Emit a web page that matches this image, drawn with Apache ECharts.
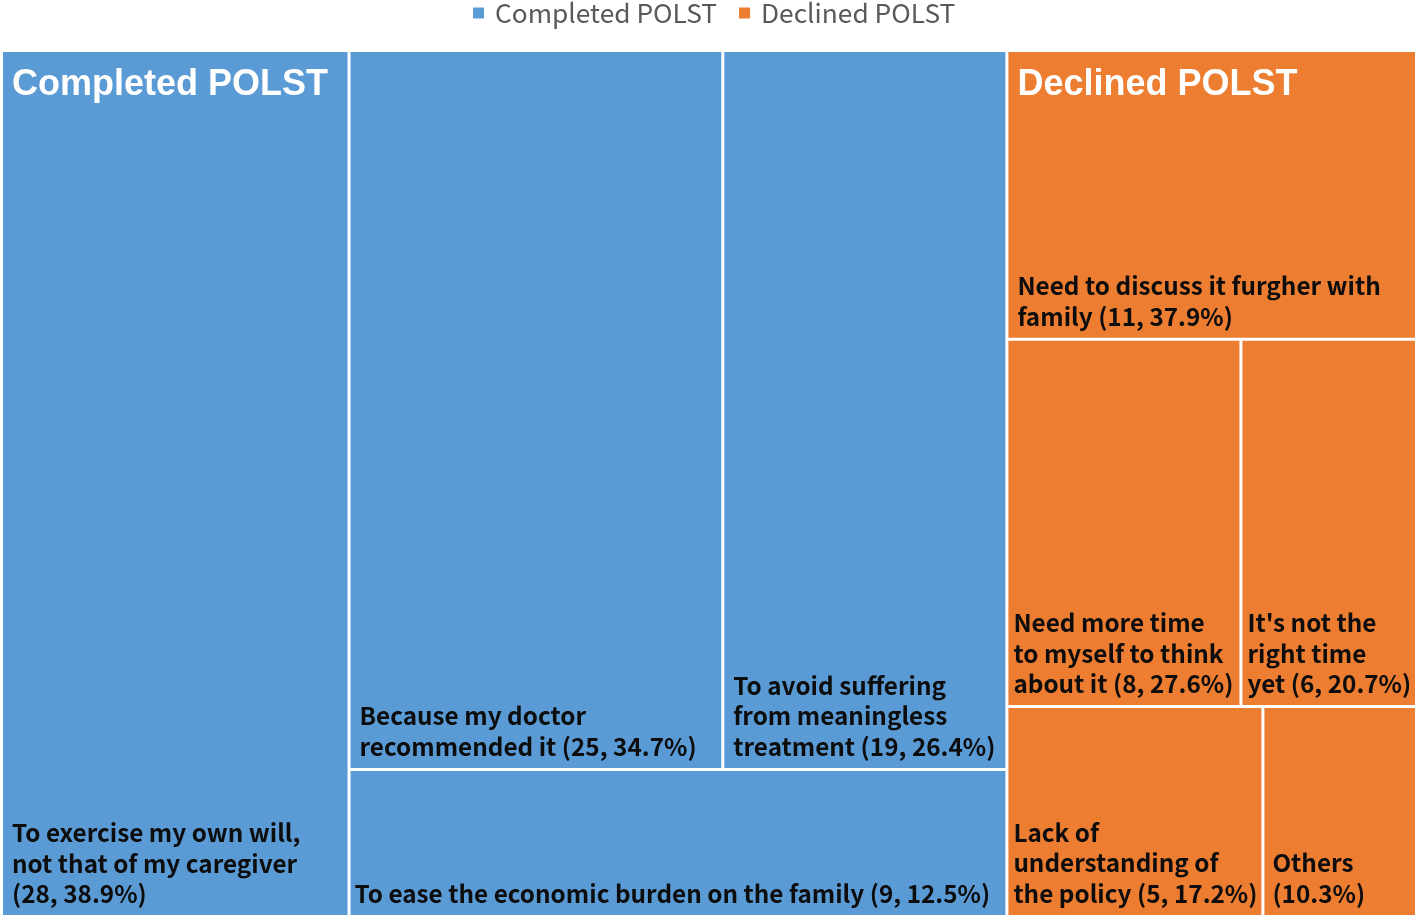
<!DOCTYPE html>
<html>
<head>
<meta charset="utf-8">
<script src="https://cdn.jsdelivr.net/npm/echarts@6/dist/echarts.min.js"></script>
<style>
html,body{margin:0;padding:0;background:#ffffff;}
#main{width:1418px;height:919px;}
</style>
</head>
<body>
<div id="main"></div>
<script>
// ---------------- DATA ----------------
const groupNames = ['Completed POLST', 'Declined POLST'];

const completedReasons = [
  'To exercise my own will,\nnot that of my caregiver\n',
  'Because my doctor\nrecommended it',
  'To avoid suffering\nfrom meaningless\ntreatment',
  'To ease the economic burden on the family'
];
const completedCounts = [28, 25, 19, 9];
const completedPct = ['38.9', '34.7', '26.4', '12.5'];

const declinedReasons = [
  'Need to discuss it furgher with\nfamily',
  'Need more time\nto myself to think\nabout it',
  "It's not the\nright time\nyet",
  'Lack of\nunderstanding of\nthe policy',
  'Others\n'
];
const declinedCounts = [11, 8, 6, 5, 3];
const declinedPct = ['37.9', '27.6', '20.7', '17.2', '10.3'];
const declinedCountShown = [true, true, true, true, false];

// ---------------- STYLE ----------------
const groupColors = ['#5B9BD5', '#ED7D31'];
const BODY_FONT = '"Noto Sans CJK KR", "Noto Sans", sans-serif';
const TITLE_FONT = '"Liberation Sans", Arial, sans-serif';
const BODY_SIZE = 24.3;
const BODY_LH = 30.5;
const TITLE_SIZE = 36;
const TITLE_LH = 40;
const completedPadLeft = [9, 9, 9, 4];
const declinedPadLeft = [9, 5, 5, 5, 8];

function labelText(reason, count, pct, showCount) {
  const sep = reason.endsWith('\n') ? '' : ' ';
  return reason + sep + '(' + (showCount ? count + ', ' : '') + pct + '%)';
}

function makeLeaf(g, reason, count, pct, showCount, padLeft) {
  return {
    name: labelText(reason, count, pct, showCount),
    value: count,
    itemStyle: { color: groupColors[g] },
    label: { padding: [0, 0, 6, padLeft] }
  };
}

const cLeaves = completedReasons.map((r, i) =>
  makeLeaf(0, r, completedCounts[i], completedPct[i], true, completedPadLeft[i]));
const dLeaves = declinedReasons.map((r, i) =>
  makeLeaf(1, r, declinedCounts[i], declinedPct[i], declinedCountShown[i], declinedPadLeft[i]));

// Nesting reproduces the original slice layout of the figure
const treeData = [
  cLeaves[0],
  {
    name: ' ',
    itemStyle: { color: '#ffffff' },
    children: [
      {
        name: groupNames[0] + ' ',
        itemStyle: { color: groupColors[0] },
        children: [
          { name: '  ', itemStyle: { color: groupColors[0] }, children: [cLeaves[1], cLeaves[2]] },
          cLeaves[3]
        ]
      },
      {
        name: groupNames[1] + ' ',
        itemStyle: { color: groupColors[1] },
        children: dLeaves
      }
    ]
  }
];

const chart = echarts.init(document.getElementById('main'), null, { renderer: 'canvas' });

const option = {
  animation: false,
  backgroundColor: '#ffffff',
  legend: {
    data: groupNames,
    top: -6,
    left: 468,
    icon: 'rect',
    itemWidth: 11,
    itemHeight: 11,
    itemGap: 22,
    selectedMode: false,
    textStyle: {
      fontFamily: BODY_FONT,
      fontSize: 26.3,
      color: '#595959',
      lineHeight: 28,
      padding: [0, 0, 0, 6]
    }
  },
  series: [
    {
      type: 'pie',
      silent: true,
      radius: [0, 0],
      center: [-200, -200],
      label: { show: false },
      labelLine: { show: false },
      data: groupNames.map((n, i) => ({ name: n, value: 1, itemStyle: { color: groupColors[i] } }))
    },
    {
      type: 'treemap',
      left: 3,
      top: 52,
      width: 1412,
      height: 863,
      squareRatio: 1.34,
      sort: false,
      roam: false,
      nodeClick: false,
      animation: false,
      breadcrumb: { show: false },
      visibleMin: 0,
      itemStyle: { borderWidth: 0, gapWidth: 3, borderColor: '#ffffff' },
      upperLabel: { show: false },
      emphasis: { disabled: true },
      label: {
        show: true,
        position: 'insideBottomLeft',
        distance: 0,
        overflow: 'none',
        fontFamily: BODY_FONT,
        fontWeight: 'bold',
        fontSize: BODY_SIZE,
        lineHeight: BODY_LH,
        color: '#0d0d0d'
      },
      data: treeData
    }
  ]
};

chart.setOption(option);

// Titles of the two groups drawn inside their first tile, pushed down from the library layout
function tileHeight(name) {
  let h = null;
  try {
    const data = chart.getModel().getSeriesByIndex(1).getData();
    data.tree.eachNode(function (n) {
      if (n.name === name) { h = n.getLayout().height; }
    });
  } catch (e) { h = null; }
  return h;
}

function titleLabel(leaf, title) {
  const h = tileHeight(leaf.name);
  const lines = leaf.name.split('\n').length;
  const padTop = 13;
  const bottom = 4;
  const spacer = Math.max(0, Math.floor((h || 300) - padTop - TITLE_LH - lines * BODY_LH - bottom - 1));
  return {
    position: 'insideTopLeft',
    padding: [padTop, 0, 0, leaf.label.padding[3]],
    formatter: '{t|' + title + '}\n{s|}\n{b|' + leaf.name + '}',
    rich: {
      t: { fontFamily: TITLE_FONT, fontWeight: 'bold', fontSize: TITLE_SIZE, lineHeight: TITLE_LH, color: '#ffffff' },
      s: { height: spacer, lineHeight: spacer },
      b: { fontFamily: BODY_FONT, fontWeight: 'bold', fontSize: BODY_SIZE, lineHeight: BODY_LH, color: '#0d0d0d' }
    }
  };
}

cLeaves[0].label = titleLabel(cLeaves[0], groupNames[0]);
dLeaves[0].label = titleLabel(dLeaves[0], groupNames[1]);
chart.setOption({ series: [{}, { data: treeData }] });
</script>
</body>
</html>
